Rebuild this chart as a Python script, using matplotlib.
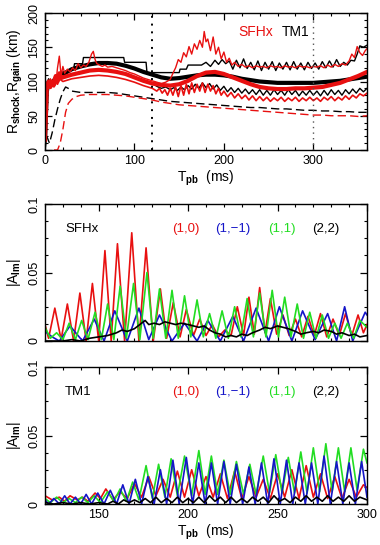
import matplotlib
matplotlib.use("Agg")
import matplotlib.pyplot as plt
from matplotlib.ticker import MultipleLocator

plt.rcParams['font.family'] = ['Liberation Sans', 'DejaVu Sans']
plt.rcParams['font.size'] = 9
plt.rcParams['mathtext.fontset'] = 'custom'
plt.rcParams['mathtext.rm'] = 'Liberation Sans'
plt.rcParams['mathtext.bf'] = 'Liberation Sans:bold'

RED = '#e81010'
BLUE = '#1515c8'
GREEN = '#22dd22'
BLACK = 'black'

# ---------------- top panel: shock and gain radii (km) ----------------
sfhx_max_t = [0, 1, 2, 3, 4, 6, 8, 10, 12, 14, 16, 18, 20, 22, 25, 28, 31, 34, 37, 40, 43, 46, 49, 52, 54, 56, 58,
              61, 64, 67, 70, 75, 80, 85, 90, 95, 100, 105, 110, 115, 120, 125, 130, 135, 140, 143, 146, 149, 152,
              155, 158, 161, 164, 167, 170, 173, 176, 178, 180, 182, 185, 188, 191, 194, 197, 200, 203, 206, 209,
              212, 216, 220, 224, 228, 232, 236, 240, 244, 248, 252, 256, 260, 264, 268, 272, 276, 280, 284, 288,
              292, 296, 300, 304, 308, 312, 316, 320, 324, 328, 332, 336, 340, 343, 346, 349, 352, 355, 358, 360]
sfhx_max_r = [15, 60, 95, 100, 92, 104, 98, 106, 96, 120, 137, 108, 122, 112, 118, 114, 120, 116, 126, 120, 124, 122,
              128, 140, 144, 132, 126, 124, 122, 124, 121, 122, 120, 118, 116, 113, 111, 108, 105, 103, 101, 99, 97,
              99, 103, 112, 120, 132, 128, 142, 136, 151, 140, 155, 147, 160, 150, 173, 158, 162, 145, 165, 140, 150,
              133, 143, 128, 134, 124, 128, 122, 125, 121, 123, 120, 123, 121, 122, 120, 123, 121, 122, 120, 123, 121,
              122, 120, 123, 121, 122, 120, 122, 121, 123, 120, 124, 121, 125, 122, 126, 124, 130, 140, 135, 151, 142,
              138, 145, 148]

tm1_max_t = [0, 2, 4, 6, 9, 12, 16, 20, 24, 28, 32, 33, 42, 43, 88, 89, 113, 114, 150, 151, 158, 160, 175, 180, 185,
             190, 194, 198, 202, 206, 210, 214, 218, 222, 226, 230, 234, 238, 242, 246, 250, 254, 258, 262, 266, 270,
             274, 278, 282, 286, 290, 294, 298, 302, 306, 310, 314, 318, 322, 326, 330, 334, 338, 342, 346, 349, 352,
             356, 360]
tm1_max_r = [15, 90, 104, 96, 100, 108, 112, 114, 115, 117, 118, 126, 126, 135, 135, 128, 128, 113, 113, 118, 118, 124,
             124, 128, 122, 131, 125, 132, 126, 130, 118, 131, 120, 133, 119, 128, 117, 130, 116, 128, 118, 129, 116,
             127, 118, 128, 117, 129, 118, 127, 117, 128, 119, 127, 118, 129, 120, 130, 121, 132, 122, 128, 124, 131,
             130, 140, 152, 150, 153]

sfhx_avg_t = [0, 2, 4, 6, 8, 10, 12, 14, 16, 18, 20, 25, 30, 40, 50, 60, 70, 80, 90, 100, 110, 120, 130, 140, 150,
              160, 170, 180, 190, 200, 210, 220, 230, 240, 250, 260, 270, 280, 290, 300, 310, 320, 330, 340, 350, 360]
sfhx_avg_r = [15, 90, 100, 92, 100, 95, 108, 100, 112, 105, 106, 108, 110, 113, 116, 117, 116, 114, 111, 106, 101, 97,
              95, 94, 96, 101, 108, 113, 114, 111, 106, 101, 96, 92, 90, 89, 89, 90, 90, 91, 92, 95, 98, 103, 108, 114]

tm1_avg_t = [0, 2, 4, 6, 8, 10, 14, 18, 22, 26, 30, 40, 50, 60, 70, 80, 90, 100, 110, 120, 130, 140, 150, 160, 170,
             180, 190, 200, 210, 220, 230, 240, 250, 260, 270, 280, 290, 300, 310, 320, 330, 340, 350, 360]
tm1_avg_r = [15, 85, 100, 96, 98, 102, 104, 108, 112, 115, 118, 122, 125, 127, 127, 126, 123, 119, 114, 110, 106, 104,
             105, 107, 109, 110, 110, 109, 107, 104, 102, 100, 99, 98, 98, 98, 98, 98, 99, 100, 101, 103, 105, 107]

sfhx_min_t = [0, 2, 4, 6, 8, 10, 12, 14, 16, 20, 25, 30, 40, 50, 60, 70, 80, 90, 100, 110, 120, 125, 128, 131, 134,
              137, 140, 143, 146, 149, 152, 155, 158, 161, 164, 167, 170, 173, 176, 179, 182, 185, 188, 191, 194, 197,
              200, 204, 208, 212, 216, 220, 224, 228, 232, 236, 240, 244, 248, 252, 256, 260, 264, 268, 272, 276, 280,
              284, 288, 292, 296, 300, 304, 308, 312, 316, 320, 324, 328, 332, 336, 340, 344, 348, 352, 356, 360]
sfhx_min_r = [15, 88, 98, 90, 96, 92, 100, 96, 104, 100, 102, 104, 106, 108, 109, 108, 106, 103, 99, 94, 90, 86, 90,
              83, 88, 80, 90, 80, 92, 78, 94, 80, 96, 82, 98, 84, 96, 86, 98, 84, 96, 86, 94, 82, 90, 80, 86, 78, 84,
              76, 82, 75, 80, 73, 79, 72, 78, 72, 77, 71, 76, 72, 77, 71, 76, 72, 77, 71, 76, 72, 77, 72, 76, 71, 77,
              73, 78, 72, 77, 73, 79, 74, 80, 76, 82, 79, 83]

tm1_min_t = [0, 2, 4, 6, 8, 12, 16, 20, 30, 40, 50, 60, 70, 80, 90, 100, 110, 120, 125, 130, 135, 140, 144, 148, 152,
             156, 160, 164, 168, 172, 176, 180, 184, 188, 192, 196, 200, 204, 208, 212, 216, 220, 224, 228, 232, 236,
             240, 244, 248, 252, 256, 260, 264, 268, 272, 276, 280, 284, 288, 292, 296, 300, 304, 308, 312, 316, 320,
             324, 328, 332, 336, 340, 344, 348, 352, 356, 360]
tm1_min_r = [10, 80, 97, 92, 96, 100, 104, 106, 110, 113, 115, 116, 116, 114, 111, 107, 102, 97, 93, 90, 92, 88, 91,
             87, 92, 88, 94, 89, 96, 90, 98, 91, 97, 89, 95, 87, 93, 85, 91, 84, 90, 83, 89, 82, 88, 81, 88, 80, 87,
             80, 88, 81, 87, 80, 88, 81, 87, 79, 86, 80, 87, 80, 86, 79, 87, 80, 88, 81, 87, 80, 88, 82, 89, 83, 90,
             85, 90]

sfhx_gain_t = [10, 14, 17, 20, 23, 26, 30, 35, 40, 50, 60, 70, 80, 90, 100, 110, 120, 130, 140, 150, 160, 170, 180,
               190, 200, 210, 220, 230, 240, 250, 260, 270, 280, 290, 300, 310, 320, 330, 340, 350, 360]
sfhx_gain_r = [0, 0, 10, 30, 55, 68, 74, 78, 80, 81, 81, 81, 80, 79, 77, 75, 73, 70, 68, 66, 65, 64, 63, 62, 61, 60,
               59, 58, 57, 56, 55, 54, 53, 52, 51, 51, 50, 50, 50, 49, 50]

tm1_gain_t = [0, 2, 5, 8, 11, 14, 17, 20, 23, 26, 30, 35, 40, 50, 60, 70, 80, 90, 100, 110, 120, 130, 140, 150, 160,
              170, 180, 190, 200, 210, 220, 230, 240, 250, 260, 270, 280, 290, 300, 310, 320, 330, 340, 350, 360]
tm1_gain_r = [0, 20, 10, 25, 44, 60, 74, 85, 92, 90, 86, 85, 84, 84, 84, 84, 83, 81, 79, 77, 75, 73, 71, 70, 69, 68,
              67, 66, 65, 64, 63, 62, 62, 61, 60, 60, 59, 58, 58, 57, 57, 56, 56, 55, 55]

# ---------------- middle panel: SFHx mode amplitudes ----------------
sfhx_10_t = [120, 122, 125.5, 129, 132.5, 136, 139.5, 143, 146.5, 150, 153.5, 157, 160.5, 164.5, 168.5, 172.5, 176.5,
             180.5, 184.5, 188, 191.7, 195.5, 199, 203, 206.5, 210, 213.5, 217, 220.5, 224, 227.5, 231, 234, 237, 240,
             243, 246, 249.5, 253, 256.5, 260, 263.5, 267, 270.5, 274, 277.5, 281, 284.5, 288, 291.5, 295, 298, 300]
sfhx_10_a = [0.012, 0.002, 0.024, 0.001, 0.027, 0.0, 0.035, 0.0, 0.042, 0.0, 0.066, 0.0, 0.071, 0.0, 0.079, 0.0,
             0.068, 0.0, 0.038, 0.002, 0.028, 0.003, 0.023, 0.004, 0.016, 0.004, 0.012, 0.003, 0.008, 0.004, 0.025,
             0.004, 0.032, 0.005, 0.039, 0.006, 0.031, 0.005, 0.019, 0.004, 0.016, 0.003, 0.018, 0.004, 0.020, 0.003,
             0.016, 0.004, 0.020, 0.004, 0.019, 0.006, 0.012]

sfhx_1m1_t = [120, 124, 128, 134, 141, 147.5, 153, 159, 166, 172.5, 178, 184, 191, 198, 205, 211, 218, 225, 231, 238,
              245, 251, 258, 264, 271, 278, 283, 287.5, 292, 299, 300]
sfhx_1m1_a = [0.007, 0.003, 0.0, 0.011, 0.0, 0.016, 0.0, 0.022, 0.0, 0.024, 0.001, 0.019, 0.0, 0.013, 0.0, 0.015,
              0.0, 0.018, 0.0, 0.024, 0.0, 0.025, 0.0, 0.022, 0.001, 0.020, 0.0, 0.025, 0.0, 0.021, 0.019]

sfhx_11_t = [120, 123, 126.5, 130, 133.5, 137, 140.5, 144, 148, 151.5, 155, 158.5, 162, 165.5, 169.5, 173, 177, 180.5,
             184, 187.5, 191, 194.5, 198, 201.5, 205, 208.5, 212, 215.5, 219, 222.5, 226, 229.5, 233, 236.5, 240,
             243.5, 247, 250.5, 254, 257.5, 261, 264.5, 268, 271.5, 275, 278.5, 282, 285.5, 289, 292.5, 296, 300]
sfhx_11_a = [0.010, 0.002, 0.006, 0.001, 0.013, 0.001, 0.015, 0.001, 0.021, 0.001, 0.027, 0.001, 0.040, 0.002, 0.042,
             0.001, 0.050, 0.002, 0.038, 0.002, 0.037, 0.002, 0.033, 0.003, 0.030, 0.003, 0.020, 0.002, 0.022, 0.002,
             0.025, 0.003, 0.031, 0.003, 0.035, 0.003, 0.037, 0.003, 0.032, 0.003, 0.027, 0.002, 0.021, 0.002, 0.019,
             0.002, 0.013, 0.002, 0.013, 0.002, 0.015, 0.010]

sfhx_22_t = [120, 130, 135, 140, 145, 150, 155, 160, 163, 166, 170, 173, 176, 178, 181, 184, 187, 190, 193, 196, 200,
             203, 206, 209, 212, 215, 218, 221, 224, 227, 230, 233, 236, 240, 243, 246, 250, 253, 256, 260, 263, 266,
             270, 273, 276, 280, 283, 286, 290, 293, 296, 300]
sfhx_22_a = [0.0, 0.0, 0.001, 0.0, 0.002, 0.003, 0.004, 0.006, 0.008, 0.007, 0.009, 0.012, 0.015, 0.012, 0.013,
             0.012, 0.014, 0.013, 0.012, 0.013, 0.012, 0.011, 0.010, 0.011, 0.008, 0.006, 0.005, 0.003, 0.004, 0.003,
             0.005, 0.004, 0.006, 0.008, 0.010, 0.009, 0.011, 0.010, 0.009, 0.007, 0.005, 0.006, 0.007, 0.006, 0.008,
             0.007, 0.005, 0.006, 0.004, 0.005, 0.003, 0.004]

# ---------------- bottom panel: TM1 mode amplitudes ----------------
tm1_10_t = [120, 124, 128, 131, 134, 138, 141, 144, 148, 151, 154, 158, 162, 166, 170, 174, 178, 182, 186, 190, 194,
            198, 202, 206, 210, 214, 218, 222, 226, 230, 234, 238, 242, 246, 250, 254, 258, 262, 266, 270, 274, 278,
            282, 286, 290, 294, 298, 300]
tm1_10_a = [0.006, 0.003, 0.005, 0.002, 0.006, 0.003, 0.005, 0.002, 0.008, 0.004, 0.011, 0.003, 0.009, 0.004, 0.015,
            0.005, 0.020, 0.006, 0.018, 0.005, 0.024, 0.005, 0.025, 0.006, 0.020, 0.005, 0.022, 0.004, 0.024, 0.004,
            0.020, 0.005, 0.018, 0.004, 0.022, 0.005, 0.025, 0.004, 0.028, 0.005, 0.022, 0.004, 0.020, 0.004, 0.018,
            0.005, 0.014, 0.012]

tm1_1m1_t = [120, 122, 125, 128, 131, 134, 137, 140, 143, 146, 149.5, 153, 156.5, 160, 163.5, 167, 170.5, 174, 177.5,
             181, 184.5, 188, 191.5, 195, 199, 202.5, 206, 209.5, 213, 216.5, 220, 223.5, 227, 230.5, 234, 237.5, 241,
             244.5, 248, 251.5, 255, 258.5, 262, 265.5, 269, 272.5, 276, 279.5, 283, 286.5, 290, 293.5, 297, 300]
tm1_1m1_a = [0.003, 0.0, 0.004, 0.0, 0.006, 0.0, 0.005, 0.0, 0.007, 0.0, 0.008, 0.0, 0.010, 0.0, 0.014, 0.0, 0.018,
             0.0, 0.020, 0.0, 0.025, 0.0, 0.032, 0.0, 0.034, 0.0, 0.030, 0.0, 0.030, 0.0, 0.031, 0.0, 0.029, 0.0,
             0.027, 0.0, 0.030, 0.0, 0.033, 0.0, 0.032, 0.0, 0.030, 0.0, 0.030, 0.0, 0.035, 0.0, 0.031, 0.0, 0.030,
             0.0, 0.031, 0.005]

tm1_11_t = [120, 123, 126.5, 130, 133.5, 137, 140.5, 144, 147.5, 151, 155, 158.5, 162, 165.5, 169, 172.5, 176.5, 180,
            183.5, 187, 190.5, 194, 198, 202, 206, 209.5, 213, 216.5, 220, 223.5, 227, 231, 234.5, 238, 242, 245.5,
            249, 252.5, 256, 259.5, 263, 266.5, 270, 273.5, 277, 280.5, 284, 287.5, 291, 294.5, 298, 300]
tm1_11_a = [0.004, 0.001, 0.005, 0.001, 0.004, 0.001, 0.005, 0.001, 0.006, 0.001, 0.009, 0.002, 0.011, 0.002, 0.016,
            0.003, 0.028, 0.004, 0.029, 0.005, 0.033, 0.006, 0.035, 0.006, 0.039, 0.007, 0.035, 0.007, 0.032, 0.007,
            0.031, 0.007, 0.029, 0.007, 0.035, 0.008, 0.036, 0.008, 0.034, 0.008, 0.038, 0.008, 0.041, 0.009, 0.044,
            0.009, 0.041, 0.009, 0.041, 0.010, 0.040, 0.030]

tm1_22_t = [120, 125, 130, 135, 140, 145, 150, 155, 158, 161, 164, 167, 170, 173, 176, 179, 182, 185, 188, 191, 194,
            197, 200, 203, 206, 209, 212, 215, 218, 221, 224, 227, 230, 233, 236, 239, 242, 245, 248, 251, 254, 257,
            260, 263, 266, 269, 272, 275, 278, 281, 284, 287, 290, 293, 296, 300]
tm1_22_a = [0.001, 0.0, 0.001, 0.0, 0.001, 0.0, 0.001, 0.0, 0.002, 0.0, 0.003, 0.001, 0.003, 0.001, 0.004, 0.001,
            0.005, 0.001, 0.004, 0.001, 0.005, 0.001, 0.004, 0.001, 0.005, 0.001, 0.006, 0.002, 0.005, 0.001, 0.005,
            0.001, 0.004, 0.001, 0.005, 0.002, 0.005, 0.001, 0.006, 0.002, 0.004, 0.001, 0.005, 0.002, 0.006, 0.002,
            0.005, 0.002, 0.006, 0.002, 0.005, 0.002, 0.006, 0.002, 0.005, 0.003]

mode_labels = ['(1,0)', '(1,\u22121)', '(1,1)', '(2,2)']
mode_colors = [RED, BLUE, GREEN, BLACK]

W, H = 380, 545
fig = plt.figure(figsize=(W / 100, H / 100), dpi=100)


def box(left, top, right, bottom):
    return [left / W, 1 - bottom / H, (right - left) / W, (bottom - top) / H]


def style(ax):
    ax.tick_params(which='both', direction='in', top=True, right=True, labelsize=9)
    ax.tick_params(which='major', length=5, width=0.9)
    ax.tick_params(which='minor', length=2.5, width=0.8)
    for lab in ax.get_yticklabels():
        lab.set_rotation(90)
        lab.set_va('center')
    for s in ax.spines.values():
        s.set_linewidth(1.0)


ax1 = fig.add_axes(box(45, 13, 367, 150))
ax2 = fig.add_axes(box(45, 204, 367, 341))
ax3 = fig.add_axes(box(45, 367, 367, 504))

# top panel
ax1.plot(tm1_gain_t, tm1_gain_r, color=BLACK, lw=1.0, dashes=(6, 3))
ax1.plot(sfhx_gain_t, sfhx_gain_r, color=RED, lw=1.0, dashes=(6, 3))
ax1.plot(tm1_max_t, tm1_max_r, color=BLACK, lw=1.0)
ax1.plot(tm1_min_t, tm1_min_r, color=BLACK, lw=1.0)
ax1.plot(tm1_avg_t, tm1_avg_r, color=BLACK, lw=3.0)
ax1.plot(sfhx_max_t, sfhx_max_r, color=RED, lw=1.0)
ax1.plot(sfhx_min_t, sfhx_min_r, color=RED, lw=1.2)
ax1.plot(sfhx_avg_t, sfhx_avg_r, color=RED, lw=3.0)
ax1.axvline(120, color=BLACK, lw=1.4, ls=(0, (1, 3)))
ax1.axvline(300, color='#555555', lw=1.0, ls=(0, (1, 3)))
ax1.set_xlim(0, 360)
ax1.set_ylim(0, 200)
ax1.xaxis.set_major_locator(MultipleLocator(100))
ax1.xaxis.set_minor_locator(MultipleLocator(20))
ax1.yaxis.set_major_locator(MultipleLocator(50))
ax1.yaxis.set_minor_locator(MultipleLocator(10))
ax1.set_xlabel(r'T$_{\mathbf{pb}}$  (ms)', fontsize=10, labelpad=1)
ax1.set_ylabel(r'R$_{\mathbf{shock}}$,R$_{\mathbf{gain}}$ (km)', fontsize=10, labelpad=2)
ax1.text(0.60, 0.86, 'SFHx', color=RED, fontsize=10, transform=ax1.transAxes, va='center')
ax1.text(0.735, 0.86, 'TM1', color=BLACK, fontsize=10, transform=ax1.transAxes, va='center')
style(ax1)

# middle and bottom panels
panels = [
    (ax2, 'SFHx', [(sfhx_10_t, sfhx_10_a), (sfhx_1m1_t, sfhx_1m1_a), (sfhx_11_t, sfhx_11_a), (sfhx_22_t, sfhx_22_a)]),
    (ax3, 'TM1', [(tm1_10_t, tm1_10_a), (tm1_1m1_t, tm1_1m1_a), (tm1_11_t, tm1_11_a), (tm1_22_t, tm1_22_a)]),
]
label_x = [0.394, 0.528, 0.693, 0.829]
for ax, name, series in panels:
    order = [0, 1, 2, 3] if name == 'SFHx' else [0, 2, 1, 3]
    for k in order:
        t, a = series[k]
        ax.plot(t, a, color=mode_colors[k], lw=1.2)
    ax.set_xlim(120, 300)
    ax.set_ylim(0, 0.1)
    ax.xaxis.set_major_locator(MultipleLocator(50))
    ax.xaxis.set_minor_locator(MultipleLocator(10))
    ax.yaxis.set_major_locator(MultipleLocator(0.05))
    ax.yaxis.set_minor_locator(MultipleLocator(0.0125))
    ax.yaxis.set_major_formatter(plt.FuncFormatter(lambda v, p: '0' if v == 0 else ('%g' % v)))
    ax.set_ylabel(r'|A$_{\mathbf{lm}}$|', fontsize=10, labelpad=4)
    ax.text(0.062, 0.82, name, fontsize=9.5, transform=ax.transAxes, va='center')
    for lab, col, x in zip(mode_labels, mode_colors, label_x):
        ax.text(x, 0.82, lab, color=col, fontsize=9.5, transform=ax.transAxes, va='center')
    style(ax)

ax2.tick_params(labelbottom=False)
ax3.set_xlabel(r'T$_{\mathbf{pb}}$  (ms)', fontsize=10, labelpad=1)

fig.savefig('out.png', dpi=100)
